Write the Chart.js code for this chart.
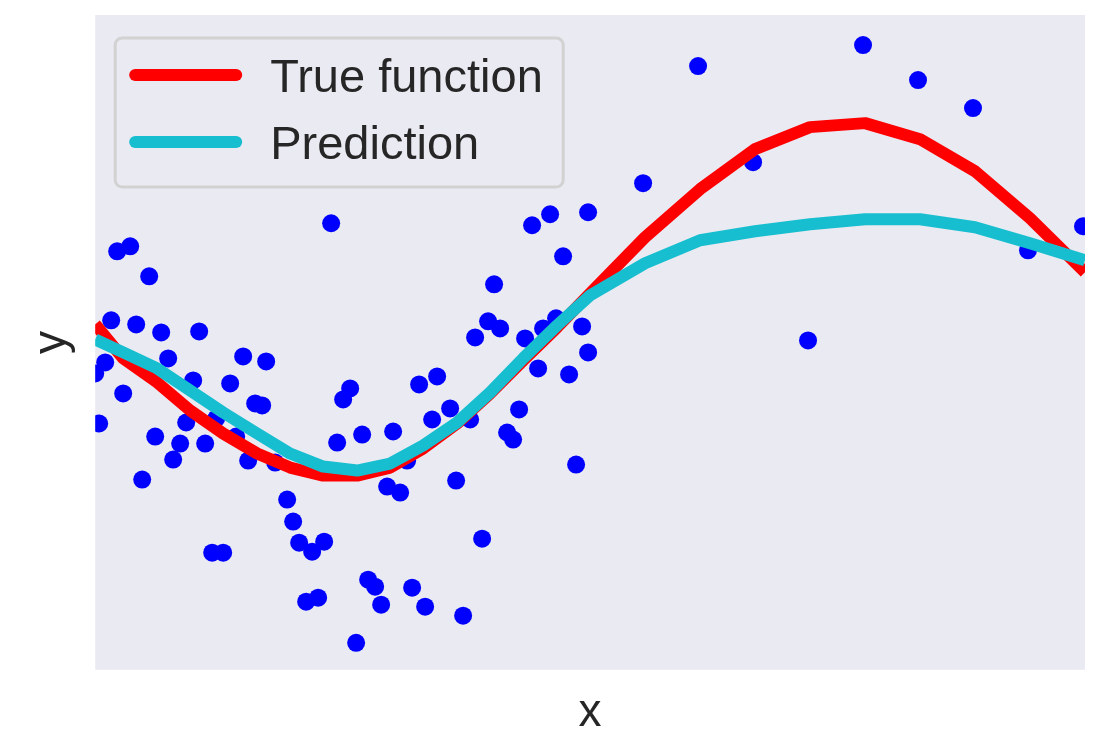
<!DOCTYPE html>
<html>
<head>
<meta charset="utf-8">
<script src="https://cdn.jsdelivr.net/npm/chart.js@4"></script>
<style>
  html, body { margin: 0; padding: 0; background: #ffffff; }
  #wrap { width: 1111px; height: 731px; }
</style>
</head>
<body>
<div id="wrap"><canvas id="chart" width="1111" height="731"></canvas></div>
<script>
// noisy samples
const sampleX = [0.00, 0.04, 0.10, 0.16, 0.22, 0.28, 0.35, 0.41, 0.47, 0.54, 0.60, 0.66, 0.73, 0.78, 0.85, 0.91, 0.98, 1.04, 1.10, 1.17,
    1.21, 1.28, 1.35, 1.41, 1.48, 1.53, 1.60, 1.67, 1.71, 1.80, 1.92, 1.98, 2.04, 2.11, 2.17, 2.23, 2.29, 2.36, 2.42, 2.48,
    2.55, 2.61, 2.67, 2.73, 2.80, 2.86, 2.92, 2.98, 3.05, 3.12, 3.17, 3.24, 3.30, 3.37, 3.42, 3.55, 3.61, 3.68, 3.75, 3.80,
    3.87, 3.93, 3.99, 4.05, 4.12, 4.18, 4.24, 4.30, 4.37, 4.43, 4.48, 4.55, 4.61, 4.68, 4.74, 4.81, 4.87, 4.93, 4.93, 5.48,
    6.03, 6.58, 7.13, 7.68, 8.23, 8.78, 9.33, 9.88];
const sampleY = [-0.31, -0.81, -0.20, 0.22, 0.91, -0.51, 0.96, 0.18, -1.37, 0.66, -0.94, 0.10, -0.16, -1.17, -1.01, -0.80, -0.38, 0.11, -1.01, -2.10,
    -0.76, -2.10, -0.41, -0.94, -0.14, -1.18, -0.61, -0.63, -0.19, -1.20, -1.57, -1.79, -2.00, -2.59, -2.09, -2.55, -1.99, 1.19, -1.00, -0.57,
    -0.46, -3.00, -0.92, -2.37, -2.44, -2.62, -1.44, -0.89, -1.50, -1.18, -2.45, -0.42, -2.64, -0.77, -0.34, -0.66, -1.38, -2.73, -0.77, 0.05,
    -1.96, 0.21, 0.58, 0.14, -0.90, -0.97, -0.67, 0.04, 1.17, -0.26, 0.14, 1.28, 0.24, 0.86, -0.32, -1.22, 0.16, 1.30, -0.10, 1.59,
    2.76, 1.80, 0.02, 2.97, 2.62, 2.34, 0.92, 1.16];

// curves (denser on the left where the samples are dense)
const gridX = [0, 0.28, 0.62, 0.95, 1.28, 1.62, 1.95, 2.28, 2.62, 2.95, 3.28, 3.62, 3.95, 4.28, 4.62, 4.95,
    5.5, 6.05, 6.6, 7.15, 7.7, 8.25, 8.8, 9.35, 9.9];
const trueY = [0.18, -0.16, -0.40, -0.68, -0.91, -1.11, -1.25, -1.33, -1.33, -1.25, -1.06, -0.81, -0.51, -0.18, 0.15, 0.49,
    1.05, 1.53, 1.93, 2.15, 2.19, 2.03, 1.71, 1.24, 0.70];
const predY = [0.03, -0.10, -0.26, -0.48, -0.70, -0.91, -1.11, -1.24, -1.28, -1.21, -1.03, -0.80, -0.50, -0.16, 0.17, 0.47,
    0.79, 1.02, 1.11, 1.18, 1.23, 1.23, 1.15, 0.99, 0.82];

const seriesNames = ["True function", "Prediction"];
const textColor = "#262626";
const fontFamily = "'Liberation Sans', Arial, sans-serif";

const toPoints = (xs, ys) => xs.map((x, i) => ({ x: x, y: ys[i] }));

// grey plot background like seaborn darkgrid
const plotBackground = {
    id: "plotBackground",
    beforeDraw(chart) {
        const { ctx, chartArea } = chart;
        ctx.save();
        ctx.fillStyle = "#EAEAF2";
        ctx.fillRect(chartArea.left, chartArea.top, chartArea.right - chartArea.left, chartArea.bottom - chartArea.top);
        ctx.restore();
    },
};

// legend box in the upper left corner of the axes
const boxLegend = {
    id: "boxLegend",
    afterDraw(chart) {
        const { ctx, chartArea } = chart;
        const left = chartArea.left + 20;
        const top = chartArea.top + 23;
        const w = 448, h = 149;
        ctx.save();
        ctx.beginPath();
        ctx.roundRect(left, top, w, h, 7);
        ctx.fillStyle = "rgba(234, 234, 242, 0.8)";
        ctx.fill();
        ctx.lineWidth = 3;
        ctx.strokeStyle = "#D2D2D2";
        ctx.stroke();

        seriesNames.forEach((name, i) => {
            const ds = chart.data.datasets.find((d) => d.label === name);
            const y = top + 37 + i * 67;
            ctx.beginPath();
            ctx.lineCap = "round";
            ctx.lineWidth = 12;
            ctx.strokeStyle = ds.borderColor;
            ctx.moveTo(left + 20, y);
            ctx.lineTo(left + 121, y);
            ctx.stroke();
            ctx.fillStyle = textColor;
            ctx.font = "47px " + fontFamily;
            ctx.textBaseline = "alphabetic";
            ctx.fillText(ds.label, left + 155, y + 17);
        });
        ctx.restore();
    },
};

new Chart(document.getElementById("chart"), {
    type: "scatter",
    data: {
        datasets: [
            {
                label: seriesNames[1],
                data: toPoints(gridX, predY),
                showLine: true,
                borderColor: "#17BECF",
                borderWidth: 12,
                pointRadius: 0,
                borderJoinStyle: "round",
                clip: 0,
                order: 1,
            },
            {
                label: seriesNames[0],
                data: toPoints(gridX, trueY),
                showLine: true,
                borderColor: "#FF0000",
                borderWidth: 12,
                pointRadius: 0,
                borderJoinStyle: "round",
                clip: 0,
                order: 2,
            },
            {
                label: "samples",
                data: toPoints(sampleX, sampleY),
                backgroundColor: "#0000FF",
                borderWidth: 0,
                pointRadius: 9,
                clip: 0,
                order: 3,
            },
        ],
    },
    options: {
        responsive: false,
        animation: false,
        layout: { padding: { left: 9, right: 26, top: 15, bottom: 0 } },
        plugins: {
            legend: { display: false },
            tooltip: { enabled: false },
        },
        scales: {
            x: {
                type: "linear",
                min: 0,
                max: 9.9,
                grid: { display: false, drawTicks: false },
                border: { display: false },
                ticks: { display: false },
                title: {
                    display: true,
                    text: "x",
                    color: textColor,
                    font: { family: fontFamily, size: 46 },
                    padding: { top: 16, bottom: -10 },
                },
            },
            y: {
                type: "linear",
                min: -3.27,
                max: 3.27,
                grid: { display: false, drawTicks: false },
                border: { display: false },
                ticks: { display: false },
                title: {
                    display: true,
                    text: "y",
                    color: textColor,
                    font: { family: fontFamily, size: 46 },
                    padding: { top: 16, bottom: 15 },
                },
            },
        },
    },
    plugins: [plotBackground, boxLegend],
});
</script>
</body>
</html>
